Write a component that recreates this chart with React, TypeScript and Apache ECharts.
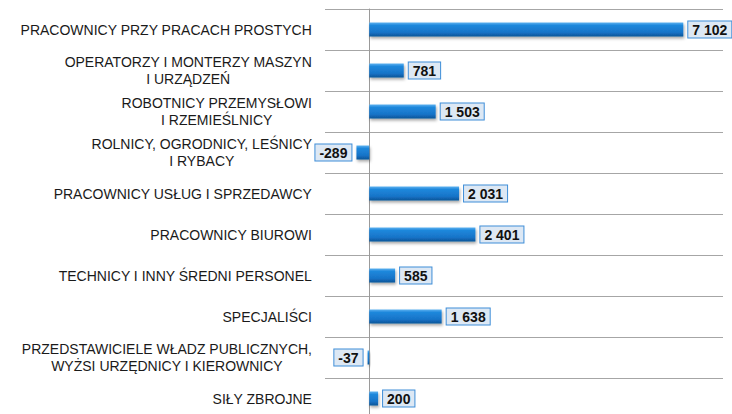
import React, { useEffect, useRef } from "react";
import * as echarts from "echarts";

const categories: string[] = [
  "PRACOWNICY PRZY PRACACH PROSTYCH",
  "OPERATORZY I MONTERZY MASZYN\nI URZĄDZEŃ",
  "ROBOTNICY PRZEMYSŁOWI\nI RZEMIEŚLNICY",
  "ROLNICY, OGRODNICY, LEŚNICY\nI RYBACY",
  "PRACOWNICY USŁUG I SPRZEDAWCY",
  "PRACOWNICY BIUROWI",
  "TECHNICY I INNY ŚREDNI PERSONEL",
  "SPECJALIŚCI",
  "PRZEDSTAWICIELE WŁADZ PUBLICZNYCH,\nWYŻSI URZĘDNICY I KIEROWNICY",
  "SIŁY ZBROJNE",
];

const values: number[] = [7102, 781, 1503, -289, 2031, 2401, 585, 1638, -37, 200];

const fmt = (v: number): string => {
  const s = String(Math.abs(v)).replace(/\B(?=(\d{3})+(?!\d))/g, " ");
  return (v < 0 ? "-" : "") + s;
};

const FONT = "'Liberation Sans', Arial, sans-serif";

export default function App() {
  const ref = useRef<HTMLDivElement>(null);

  useEffect(() => {
    if (!ref.current) return;
    const chart = echarts.init(ref.current, undefined, { renderer: "svg" });
    const barColor = new echarts.graphic.LinearGradient(0, 0, 0, 1, [
      { offset: 0, color: "#5db2f0" },
      { offset: 0.2, color: "#1f88dc" },
      { offset: 0.7, color: "#1774c8" },
      { offset: 1, color: "#0c5598" },
    ]);
    chart.setOption({
      animation: false,
      backgroundColor: "#ffffff",
      grid: {
        left: 325,
        right: 9,
        top: 9,
        height: 410,
        containLabel: false,
        outerBoundsMode: "none",
      },
      xAxis: {
        type: "value",
        min: -1000,
        max: 8000,
        show: false,
        splitLine: { show: false },
      },
      yAxis: {
        type: "category",
        inverse: true,
        data: categories,
        axisLine: { show: true, onZero: true, lineStyle: { color: "#9a9a9a", width: 1 } },
        axisTick: { show: false },
        splitLine: { show: true, lineStyle: { color: "#a6a6a6", width: 1 } },
        axisLabel: {
          margin: 13,
          align: "right",
          color: "#1a1a1a",
          fontFamily: FONT,
          fontSize: 14,
          lineHeight: 17,
          formatter: (val: string) =>
            val
              .split("\n")
              .map((l) => `{c|${l}}`)
              .join("\n"),
          rich: {
            c: {
              align: "center",
              fontFamily: FONT,
              fontSize: 14,
              lineHeight: 17,
              color: "#1a1a1a",
            },
          },
        },
      },
      series: [
        {
          type: "bar",
          barWidth: 14,
          data: values.map((v) => ({
            value: v,
            label: { position: v < 0 ? "left" : "right" },
          })),
          itemStyle: {
            color: barColor,
            shadowColor: "rgba(0,0,0,0.35)",
            shadowBlur: 3,
            shadowOffsetY: 2,
            shadowOffsetX: 1,
          },
          label: {
            show: true,
            distance: 5,
            formatter: (p: any) => fmt(p.value),
            fontFamily: FONT,
            fontWeight: "bold",
            fontSize: 14,
            lineHeight: 15,
            color: "#111111",
            backgroundColor: "#dde8f4",
            borderColor: "#3f8ed8",
            borderWidth: 1,
            padding: [1, 4, 0, 4],
          },
        },
      ],
    });
    return () => chart.dispose();
  }, []);

  return (
    <div
      ref={ref}
      style={{ position: "fixed", left: 0, top: 0, width: 732, height: 414 }}
    />
  );
}
